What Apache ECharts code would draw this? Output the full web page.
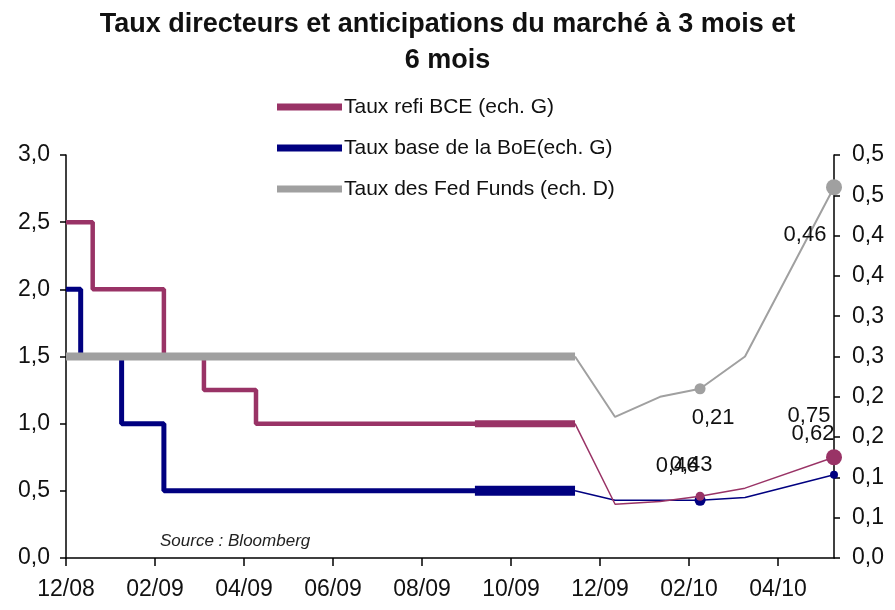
<!DOCTYPE html>
<html>
<head>
<meta charset="utf-8">
<script src="https://cdn.jsdelivr.net/npm/echarts@6/dist/echarts.min.js"></script>
<style>
  html, body { margin: 0; padding: 0; background: #fff; }
  #chart { width: 895px; height: 610px; }
</style>
</head>
<body>
<div id="chart"></div>
<script>
// x = mois écoulés depuis 12/08
const xTickLabels = ['12/08', '02/09', '04/09', '06/09', '08/09', '10/09', '12/09', '02/10', '04/10'];
const xTickPos = [0, 2, 4, 6, 8, 10, 12, 14, 16];
const rightTickLabels = ['0,0', '0,1', '0,1', '0,2', '0,2', '0,3', '0,3', '0,4', '0,4', '0,5', '0,5'];

// historique (paliers)
const bceSteps = [[0, 2.5], [0.6, 2.0], [2.2, 1.5], [3.1, 1.25], [4.27, 1.0], [11.44, 1.0]];
const boeSteps = [[0, 2.0], [0.33, 1.5], [1.25, 1.0], [2.2, 0.5], [11.44, 0.5]];
const fedSteps = [[0, 0.25], [11.44, 0.25]];
const bceBold = [[9.19, 1.0], [11.44, 1.0]];
const boeBold = [[9.19, 0.5], [11.44, 0.5]];

// anticipations
const bceFcst = [[11.44, 1.0], [12.34, 0.40], [13.35, 0.42], [14.25, 0.46], [15.26, 0.52], [17.26, 0.75]];
const boeFcst = [[11.44, 0.5], [12.34, 0.43], [13.35, 0.43], [14.25, 0.43], [15.26, 0.45], [17.26, 0.62]];
const fedFcst = [[11.44, 0.25], [12.34, 0.175], [13.35, 0.20], [14.25, 0.21], [15.26, 0.25], [17.26, 0.46]];
const markedIdx = [3, 5];

const FONT = 'Liberation Sans, Arial, sans-serif';
const cBCE = '#993366', cBOE = '#000080', cFED = '#a0a0a0';

function fr(v) { return v.toFixed(2).replace('.', ','); }

// points marqués + étiquettes
function fcstData(arr, sizes, labelPos) {
  return arr.map((p, i) => {
    const k = markedIdx.indexOf(i);
    if (k < 0) return { value: p, symbol: 'none' };
    return {
      value: p,
      symbol: 'circle',
      symbolSize: sizes[k],
      label: {
        show: true,
        position: labelPos[k].pos,
        offset: labelPos[k].off,
        formatter: fr(p[1]),
        color: '#111',
        fontSize: 22,
        fontFamily: FONT
      }
    };
  });
}

const chart = echarts.init(document.getElementById('chart'));

chart.setOption({
  animation: false,
  title: {
    text: 'Taux directeurs et anticipations du marché à 3 mois et\n6 mois',
    left: 'center',
    top: 2,
    textStyle: { fontSize: 27, fontWeight: 'bold', fontFamily: FONT, color: '#111', lineHeight: 36 }
  },
  legend: {
    orient: 'vertical',
    left: 272,
    top: 90,
    itemWidth: 65,
    itemHeight: 7,
    itemGap: 17,
    icon: 'rect',
    textStyle: { fontSize: 21, lineHeight: 24, fontFamily: FONT, color: '#111', padding: [0, 0, 0, -3] },
    data: ['Taux refi BCE (ech. G)', 'Taux base de la BoE(ech. G)', 'Taux des Fed Funds (ech. D)']
  },
  grid: { left: 66, right: 61, top: 155, bottom: 52, outerBoundsMode: 'none' },
  xAxis: {
    type: 'value',
    min: 0,
    max: 17.26,
    splitLine: { show: false },
    axisLine: { lineStyle: { color: '#000', width: 1.5 } },
    axisTick: { inside: false, length: 8, customValues: xTickPos, lineStyle: { color: '#000', width: 1.5 } },
    axisLabel: {
      margin: 20,
      fontSize: 23,
      fontFamily: FONT,
      color: '#111',
      customValues: xTickPos,
      formatter: v => xTickLabels[xTickPos.indexOf(v)] || ''
    }
  },
  yAxis: [
    {
      type: 'value',
      min: 0,
      max: 3,
      interval: 0.5,
      position: 'left',
      splitLine: { show: false },
      axisLine: { show: true, lineStyle: { color: '#000', width: 1.5 } },
      axisTick: { show: true, length: 6, lineStyle: { color: '#000', width: 1.5 } },
      axisLabel: {
        margin: 16,
        fontSize: 23,
        fontFamily: FONT,
        color: '#111',
        formatter: v => v.toFixed(1).replace('.', ',')
      }
    },
    {
      type: 'value',
      min: 0,
      max: 0.5,
      interval: 0.05,
      position: 'right',
      splitLine: { show: false },
      axisLine: { show: true, lineStyle: { color: '#000', width: 1.5 } },
      axisTick: { show: true, length: 6, lineStyle: { color: '#000', width: 1.5 } },
      axisLabel: {
        margin: 18,
        fontSize: 23,
        fontFamily: FONT,
        color: '#111',
        formatter: v => rightTickLabels[Math.round(v / 0.05)] || ''
      }
    }
  ],
  series: [
    {
      name: 'Taux refi BCE (ech. G)',
      type: 'line',
      step: 'end',
      data: bceSteps,
      symbol: 'none',
      itemStyle: { color: cBCE },
      lineStyle: { color: cBCE, width: 4.5 }
    },
    {
      name: 'Taux base de la BoE(ech. G)',
      type: 'line',
      step: 'end',
      data: boeSteps,
      symbol: 'none',
      itemStyle: { color: cBOE },
      lineStyle: { color: cBOE, width: 5 }
    },
    {
      name: 'bce-bold',
      type: 'line',
      data: bceBold,
      symbol: 'none',
      lineStyle: { color: cBCE, width: 7 }
    },
    {
      name: 'boe-bold',
      type: 'line',
      data: boeBold,
      symbol: 'none',
      lineStyle: { color: cBOE, width: 10 }
    },
    {
      name: 'bce-fcst',
      type: 'line',
      clip: false,
      data: fcstData(bceFcst, [9, 16], [
        { pos: 'top', off: [-23, -10] },
        { pos: 'top', off: [-25, -17] }
      ]),
      itemStyle: { color: cBCE },
      lineStyle: { color: cBCE, width: 1.5 },
      z: 4
    },
    {
      name: 'boe-fcst',
      type: 'line',
      clip: false,
      data: fcstData(boeFcst, [11, 8], [
        { pos: 'top', off: [-9, -14] },
        { pos: 'top', off: [-21, -21] }
      ]),
      itemStyle: { color: cBOE },
      lineStyle: { color: cBOE, width: 1.5 },
      z: 3
    },
    {
      name: 'Taux des Fed Funds (ech. D)',
      type: 'line',
      yAxisIndex: 1,
      data: fedSteps,
      symbol: 'none',
      itemStyle: { color: cFED },
      lineStyle: { color: cFED, width: 8 }
    },
    {
      name: 'fed-fcst',
      type: 'line',
      yAxisIndex: 1,
      clip: false,
      data: fcstData(fedFcst, [11, 16], [
        { pos: 'bottom', off: [13, 8] },
        { pos: 'bottom', off: [-29, 24] }
      ]),
      itemStyle: { color: cFED },
      lineStyle: { color: cFED, width: 2 }
    }
  ],
  graphic: [
    {
      type: 'text',
      left: 160,
      top: 533,
      style: {
        text: 'Source : Bloomberg',
        font: 'italic 17px ' + FONT,
        fill: '#222'
      }
    }
  ]
});
</script>
</body>
</html>
